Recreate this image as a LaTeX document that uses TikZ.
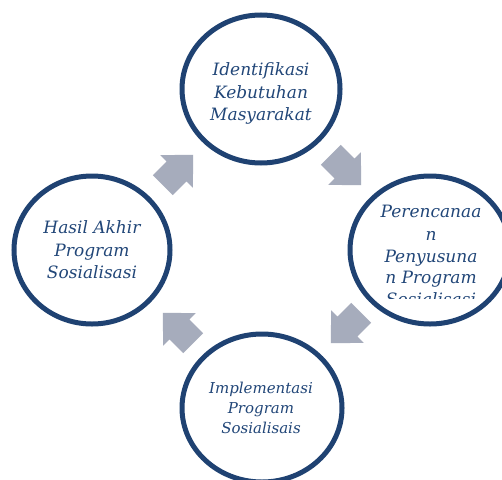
\documentclass[tikz,border=0pt]{standalone}
\usepackage{fontspec}
\setmainfont{DejaVu Serif}
\definecolor{ringblue}{RGB}{31,66,114}
\definecolor{txtblue}{RGB}{33,70,120}
\definecolor{arrgray}{RGB}{166,172,188}
\tikzset{
  ring/.style={draw=ringblue, line width=5pt},
  lbl/.style={inner sep=0pt, anchor=base, text=txtblue, font=\fontsize{17}{20}\selectfont\itshape},
  lblsm/.style={inner sep=0pt, anchor=base, text=txtblue, font=\fontsize{15}{18}\selectfont\itshape},
  blockarr/.pic={\fill[arrgray] (-21.5,-14) -- (-2,-14) -- (-2,-23) -- (21.5,0) -- (-2,23) -- (-2,14) -- (-21.5,14) -- cycle;}
}
\begin{document}
\begin{tikzpicture}[x=1pt,y=-1pt]
\clip (0,0) rectangle (502,479);
\fill[white] (0,0) rectangle (502,479);
% circles
\draw[ring] (261,89) ellipse [x radius=79, y radius=74];
\node[coordinate] (top) at (261,89) {};
\draw[ring] (430,250) ellipse [x radius=80, y radius=74];
\node[coordinate] (right) at (430,250) {};
\draw[ring] (262,408) ellipse [x radius=80, y radius=74];
\node[coordinate] (bottom) at (262,408) {};
\draw[ring] (92,250) ellipse [x radius=78, y radius=74];
\node[coordinate] (left) at (92,250) {};
% arrows
\pic[rotate=45] (a1) at (178,170) {blockarr};
\pic[rotate=-45] (a2) at (346,170) {blockarr};
\pic[rotate=-135] (a3) at (346,328) {blockarr};
\pic[rotate=135] (a4) at (178,328) {blockarr};
% top text
\node[lbl] (t1) at (261,75) {Identifikasi};
\node[lbl] (t2) at (261,98) {Kebutuhan};
\node[lbl] (t3) at (261,120) {Masyarakat};
% left text
\node[lbl] (l1) at (92,233) {Hasil Akhir};
\node[lbl] (l2) at (92,256) {Program};
\node[lbl] (l3) at (92,278) {Sosialisasi};
% bottom text
\node[lblsm] (b1) at (261,393) {Implementasi};
\node[lblsm] (b2) at (261,413) {Program};
\node[lblsm] (b3) at (261,433) {Sosialisais};
% right text
\node[lbl] (r1) at (431,217) {Perencanaa};
\node[lbl] (r2) at (431,240) {n};
\node[lbl] (r3) at (431,262) {Penyusuna};
\node[lbl] (r4) at (431,283) {n Program};
\begin{scope}
\clip (340,200) rectangle (502,298);
\node[lbl] (r5) at (431,305) {Sosialisasi};
\end{scope}
\end{tikzpicture}
\end{document}
